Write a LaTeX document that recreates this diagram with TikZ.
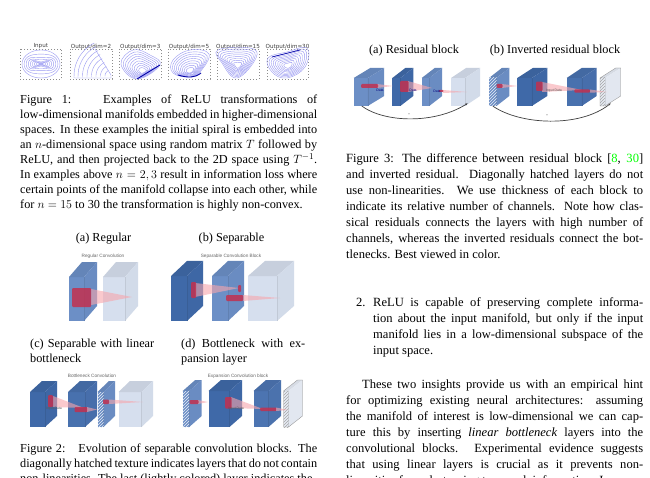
\documentclass[tikz,border=0pt]{standalone}
\usepackage{fontspec,xcolor}
\setmainfont{Liberation Serif}
\newfontfamily\plotfont{DejaVu Sans}
\newfontfamily\tagfont{Liberation Sans}
\usetikzlibrary{arrows.meta,patterns}
\definecolor{lightb}{HTML}{D6DFEE}
\definecolor{medb}{HTML}{6C8FC6}
\definecolor{darkb}{HTML}{3F69A8}
\definecolor{hotc}{HTML}{C2304F}
\definecolor{beamc}{HTML}{F7A5AC}
\definecolor{plotb}{HTML}{9A9AF2}
\hyphenpenalty=10000
\tolerance=9999
\tikzset{
  para/.style={anchor=north west,inner sep=0pt,align=justify,text width=297pt,font=\fontsize{12.25}{15}\selectfont},
  parb/.style={para,font=\fontsize{12.55}{16}\selectfont},
  sub/.style={inner sep=0pt,font=\fontsize{12.25}{15}\selectfont},
  subw/.style={para,text width=124pt},
  ptitle/.style={inner sep=0pt,font=\plotfont\fontsize{5.6}{6}\selectfont,text=black!75},
  btitle/.style={inner sep=0pt,font=\tagfont\fontsize{4.7}{5}\selectfont,text=black!60},
  tag/.style={inner sep=0pt,font=\tagfont\fontsize{3.4}{4}\selectfont,text=black!65},
  frame/.style={draw=black!45,line width=.4pt,dash pattern=on 1pt off 2pt},
  curve/.style={draw=plotb,line width=.4pt},
  dark/.style={draw=blue!65!black,line width=.9pt},
  hot/.style={fill=hotc,fill opacity=.85,rounded corners=1pt},
  beam/.style={fill=beamc,fill opacity=.6},
  hatch/.style={pattern=north east lines,pattern color=white!85!medb},
  skip/.style={-{Stealth[length=2.5pt]},draw=black!75,line width=.7pt},
}
\newcommand{\block}[7]{% colour, x, front width, dx, dy, top, bottom
  \fill[#1] (#2,{#6+#5}) rectangle ({#2+#3},#7);
  \fill[#1!93!black] (#2,{#6+#5}) -- ({#2+#4},#6) -- ({#2+#3+#4},#6) -- ({#2+#3},{#6+#5}) -- cycle;
  \fill[#1!98!black] ({#2+#3},{#6+#5}) -- ({#2+#3+#4},#6) -- ({#2+#3+#4},{#7-#5}) -- ({#2+#3},#7) -- cycle;
  \draw[#1!90!black,line width=.2pt] ({#2+#3},{#6+#5}) -- ({#2+#3},#7);
}
\newcommand{\nested}[3]{% centre x, centre y, outline
  \foreach \s in {1,.9,.8,.7,.6,.5,.4,.3,.2}
    \draw[curve,shift={(#1,#2)},scale=\s] plot[smooth cycle,tension=.7] coordinates {#3};
}
\begin{document}
\begin{tikzpicture}[x=1pt,y=-1pt]
\path[use as bounding box,clip] (0,0) rectangle (650,478);
\fill[white] (0,0) rectangle (650,478);

% figure 1
\foreach \xa/\xb/\lab/\nm in {20/61.5/Input/pa,70/112/Output{/}dim=2/pb,119.5/161/Output{/}dim=3/pc,168/210/Output{/}dim=5/pd,217/259/Output{/}dim=15/pe,267/308/Output{/}dim=30/pf}{
  \draw[frame] (\xa,49) rectangle (\xb,79);
  \node[ptitle] (\nm) at ({(\xa+\xb)/2},46.5) {\lab};
}
\foreach \s in {1,.89,.78,.67,.56,.45,.34,.23}
  \draw[curve] plot[smooth cycle,domain=0:350,samples=36,variable=\t] ({41+19*\s*cos(\t)},{64+14*\s*sin(\t)*(\s*\s+(1-\s*\s)*cos(\t)*cos(\t))});
\foreach \r in {6,10.5,15,19.5,24,28.5,33,37}
  \draw[curve] plot[smooth,domain=117:183,samples=10,variable=\t] ({111+\r*cos(\t)},{76-\r*sin(\t)});
\draw[curve] (75,78) -- (111,78) -- (111,75) -- (95,49);
\nested{143}{72}{(-6,7) (-22,-8) (-10,-22) (7,-17) (17,-7)}
\draw[dark] (137,79) -- (160,65);
\nested{190}{72}{(-17,-12) (0,-22) (19,-18) (10,0) (0,5) (-17,1)}
\draw[dark] (178,75) .. controls (188,78) and (195,78) .. (201,73);
\nested{238}{66}{(-20,-16) (12,-18) (18,-8) (-1,12) (-16,-3)}
\nested{288}{66}{(-20,-8) (-1,-14) (19,-18) (17,1) (-1,12) (-16,6)}
\draw[dark,line width=.7pt] (272,57) -- (300,50);

\node[para] (capa) at (20,95) {Figure 1:\hspace{1.2em} Examples of ReLU transformations of\linebreak
low-dimensional manifolds embedded in higher-dimensional\linebreak
spaces. In these examples the initial spiral is embedded into\linebreak
an $n$-dimensional space using random matrix $T$ followed by\linebreak
ReLU, and then projected back to the 2D space using $T^{-1}$.\linebreak
In examples above $n=2,3$ result in information loss where\linebreak
certain points of the manifold collapse into each other, while\linebreak
for $n=15$ to 30 the transformation is highly non-convex.};

% figure 2
\node[sub] (suba) at (103.5,238.5) {(a) Regular};
\node[sub] (subb) at (231.5,238.5) {(b) Separable};
\node[btitle] (ta) at (103,256) {Regular Convolution};
\node[btitle] (tb) at (231,256) {Separable Convolution Block};
\block{medb}{69}{15}{13}{15}{262}{321}
\block{lightb}{103}{22}{13}{15}{262}{321}
\fill[beam] (91,289) -- (132,297) -- (91,305) -- cycle;
\fill[hot] (72,288) rectangle (91,307);

\block{darkb}{171}{16}{16}{15}{261}{321}
\block{medb}{212}{16}{16}{15}{261}{321}
\block{lightb}{248}{29}{17}{15}{261}{321}
\fill[beam] (195,283) -- (239,288) -- (195,297) -- cycle;
\fill[hot] (191,282) rectangle (196,298);
\fill[hot] (238,285) rectangle (241,292);
\fill[beam] (243,295) -- (280,298) -- (243,301) -- cycle;
\fill[hot] (226,295) rectangle (243,301);

\node[subw] (subc) at (30,338.5) {(c) Separable with linear\linebreak bottleneck};
\node[subw] (subd) at (181,338.5) {(d) Bottleneck with ex-\linebreak pansion layer};
\node[btitle] (tc) at (92,376) {Bottleneck Convolution};
\node[btitle] (td) at (238,376) {Expansion Convolution block};

\block{darkb}{30}{15}{12}{11}{381}{427}
\block{darkb!80!medb}{68}{17}{12}{11}{381}{427}
\block{medb}{97.5}{6}{11.5}{11}{381}{427}
\fill[hatch] (97.5,392) rectangle (103.5,427);
\block{lightb}{118.5}{23}{11.5}{11}{381}{427}
\fill[beam] (53,396) -- (84,408) -- (53,407) -- cycle;
\fill[hot] (48,395) rectangle (53,407);
\fill[hot] (74.5,407) rectangle (87.5,412);
\fill[beam] (87,407) -- (97,409.5) -- (87,412) -- cycle;
\fill[beam] (109,399.5) -- (143,402) -- (109,404) -- cycle;
\fill[hot] (103,399.5) rectangle (109,404);
\node[tag] (ic) at (54,408.5) {Input Data};

\block{medb}{182.7}{6.5}{12.5}{11}{380}{427}
\fill[hatch] (182.7,391) rectangle (189.2,427);
\block{darkb}{208.5}{21}{12.5}{11}{380}{427}
\block{darkb!70!medb}{253.5}{15}{12.5}{11}{380}{427}
\block{lightb!60!white}{283.5}{5}{14}{11}{380}{427}
\fill[pattern=north east lines,pattern color=black!35] (283.5,391) rectangle (288.5,427);
\draw[black!45,line width=.3pt] (283.5,391) -- (297.5,380) -- (302.5,380) -- (302.5,416) -- (288.5,427) -- (283.5,427) -- cycle;
\fill[beam] (198,400) -- (208,402) -- (198,404) -- cycle;
\fill[hot] (189.5,400) rectangle (198.5,404);
\fill[beam] (231,397) -- (263,409) -- (231,408) -- cycle;
\fill[hot] (225,397) rectangle (231.5,408.5);
\fill[hot] (260,407.5) rectangle (276.5,411);
\fill[beam] (276,407.5) -- (288,410) -- (276,411) -- cycle;
\node[tag] (id) at (236,408.5) {Input Data};

\node[para] (capb) at (20,444) {Figure 2:\hspace{.6em} Evolution of separable convolution blocks. The\linebreak
diagonally hatched texture indicates layers that do not contain\linebreak
non-linearities. The last (lightly colored) layer indicates the};

% figure 3
\node[sub] (subr) at (414,50.5) {(a) Residual block};
\node[sub] (subi) at (555,50.5) {(b) Inverted residual block};

\block{medb}{353.7}{14}{16.5}{10}{68}{106}
\block{darkb}{392.3}{8}{13}{10}{68}{106}
\block{medb}{421.7}{7.5}{13}{10}{68}{106}
\block{lightb}{451}{14}{15}{10}{68}{106}
\fill[beam] (377,84) -- (393,86) -- (377,88) -- cycle;
\fill[hot] (361,84) rectangle (378,88);
\fill[beam] (408,81) -- (432,88) -- (408,92) -- cycle;
\fill[hot] (400,81) rectangle (408.5,92);
\fill[beam] (443,90) -- (467,92) -- (443,93) -- cycle;
\fill[hot] (438.5,90) rectangle (443.5,92);
\node[tag,text=blue!50!black] (ra) at (380,90.5) {Data};
\node[tag,text=blue!50!black] (rb) at (413,90.5) {Data};
\node[tag,text=blue!50!black] (rc) at (437,91) {Data};
\coordinate (rs) at (361.7,106);
\coordinate (re) at (467.7,103.3);
\draw[skip] (rs) .. controls (385,123) and (435,124) .. (re);
\node[tag] (rp) at (409,114.5) {+};

\block{medb}{489}{7.5}{12.8}{10}{68}{106}
\fill[hatch] (489,78) rectangle (496.5,106);
\block{darkb}{517.3}{14.5}{15.5}{10}{68}{106}
\block{darkb!80!medb}{566.7}{15}{15}{10}{68}{106}
\block{lightb!60!white}{600}{5}{15.7}{10}{68}{106}
\fill[pattern=north east lines,pattern color=black!35] (600,78) rectangle (605,106);
\draw[black!45,line width=.3pt] (600,78) -- (615.7,68) -- (620.7,68) -- (620.7,96) -- (605,106) -- (600,106) -- cycle;
\fill[beam] (502,84) -- (517.5,86) -- (502,88) -- cycle;
\fill[hot] (496.7,84) rectangle (502.7,88);
\fill[beam] (542,82) -- (582,90) -- (542,92) -- cycle;
\fill[hot] (536,81.7) rectangle (542.7,91);
\fill[hot] (574.3,89.3) rectangle (590,92.7);
\fill[beam] (590,89.5) -- (607,92) -- (590,92.7) -- cycle;
\node[tag] (ib) at (554,91) {Input Data};
\coordinate (is) at (492.7,106);
\coordinate (ie) at (610.7,103.3);
\draw[skip] (is) .. controls (520,125) and (580,128) .. (ie);
\node[tag] (ip) at (547,115.5) {+};

\node[parb] (capc) at (346,153) {Figure 3: The difference between residual block [\textcolor{green}{8}, \textcolor{green}{30}]\linebreak
and inverted residual. Diagonally hatched layers do not\linebreak
use non-linearities. We use thickness of each block to\linebreak
indicate its relative number of channels. Note how clas-\linebreak
sical residuals connects the layers with high number of\linebreak
channels, whereas the inverted residuals connect the bot-\linebreak
tlenecks. Best viewed in color.};

\node[inner sep=0pt,anchor=north west,font=\fontsize{12.55}{16}\selectfont] (num) at (356,297.5) {2.};
\node[parb,text width=270pt] (item) at (373,297.5) {ReLU is capable of preserving complete informa-\linebreak
tion about the input manifold, but only if the input\linebreak
manifold lies in a low-dimensional subspace of the\linebreak
input space.};

\node[parb] (body) at (346,379.5) {\hspace*{16pt}These two insights provide us with an empirical hint\linebreak
for optimizing existing neural architectures: assuming\linebreak
the manifold of interest is low-dimensional we can cap-\linebreak
ture this by inserting \emph{linear bottleneck} layers into the\linebreak
convolutional blocks. Experimental evidence suggests\linebreak
that using linear layers is crucial as it prevents non-\linebreak
linearities from destroying too much information. In};
\end{tikzpicture}
\end{document}
